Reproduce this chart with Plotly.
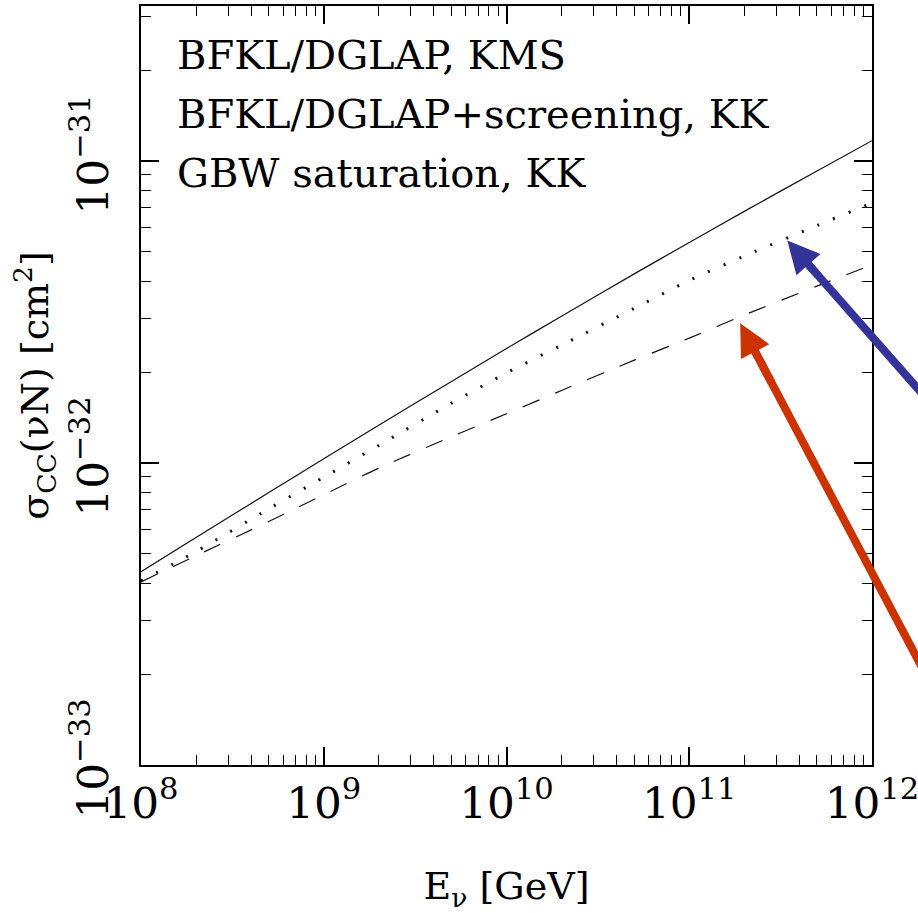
import numpy as np
import plotly.graph_objects as go

# Neutrino energy [GeV]
energy = [1e8, 2e8, 5e8, 1e9, 2e9, 5e9, 1e10, 2e10, 5e10, 1e11, 2e11, 5e11, 1e12]

# Charged-current cross sections [cm^2]
sigma_kms = [4.365e-33, 5.662e-33, 7.98e-33, 1.033e-32, 1.334e-32, 1.862e-32, 2.393e-32,
             3.062e-32, 4.227e-32, 5.37e-32, 6.808e-32, 9.268e-32, 1.167e-31]
sigma_screen = [4.07e-33, 5.09e-33, 7.05e-33, 8.97e-33, 1.143e-32, 1.578e-32, 1.986e-32,
                2.455e-32, 3.25e-32, 4.02e-32, 4.84e-32, 6.11e-32, 7.26e-32]
sigma_gbw = [4.04e-33, 4.93e-33, 6.40e-33, 7.85e-33, 9.61e-33, 1.222e-32, 1.455e-32,
             1.738e-32, 2.19e-32, 2.59e-32, 3.09e-32, 3.85e-32, 4.53e-32]

labels = ["BFKL/DGLAP, KMS", "BFKL/DGLAP+screening, KK", "GBW saturation, KK"]

# arrow tips (data) pointing at curves
blue_tip = (3.44e11, 5.45e-32)
red_tip = (1.9e11, 2.9e-32)

X_RANGE = [8, 12]
Y_RANGE = [-33, -30.487]

FONT = "DejaVu Serif"

fig = go.Figure()
fig.add_trace(go.Scatter(x=energy, y=sigma_kms, mode="lines",
                         line=dict(color="#111111", width=1.2, shape="spline", smoothing=0.8),
                         name=labels[0]))
fig.add_trace(go.Scatter(x=energy, y=sigma_screen, mode="lines",
                         line=dict(color="#111111", width=3, dash="2px,15px", shape="spline", smoothing=0.8),
                         name=labels[1]))
fig.add_trace(go.Scatter(x=energy, y=sigma_gbw, mode="lines",
                         line=dict(color="#111111", width=1.2, dash="18px,17px", shape="spline", smoothing=0.8),
                         name=labels[2]))

axis_common = dict(
    type="log", dtick=1, exponentformat="power", showexponent="all",
    ticks="inside", ticklen=18, tickwidth=1.5, tickcolor="black",
    showline=True, linecolor="black", linewidth=1.6, mirror="allticks",
    showgrid=False, zeroline=False, ticklabeloverflow="allow", automargin=False,
    minor=dict(ticks="inside", ticklen=10, tickwidth=1.3, tickcolor="black", showgrid=False),
    tickfont=dict(family=FONT, size=35, color="black"),
)

fig.update_xaxes(**axis_common, range=X_RANGE,
                 title=dict(text="E<sub>ν</sub> [GeV]", font=dict(family=FONT, size=38, color="black"),
                            standoff=48))
fig.update_yaxes(**axis_common, range=Y_RANGE, tickangle=-90, ticklabelstandoff=15,
                 title=dict(text="σ<sub>CC</sub>(νN) [cm<sup>2</sup>]",
                            font=dict(family=FONT, size=38, color="black"), standoff=2))

ys = [0.935, 0.858, 0.780]
for lab, yy in zip(labels, ys):
    fig.add_annotation(text=lab, xref="paper", yref="paper", x=0.046, y=yy,
                       xanchor="left", yanchor="middle", showarrow=False,
                       font=dict(family=FONT, size=40, color="black"))


def paper_pos(tip):
    px = (np.log10(tip[0]) - X_RANGE[0]) / (X_RANGE[1] - X_RANGE[0])
    py = (np.log10(tip[1]) - Y_RANGE[0]) / (Y_RANGE[1] - Y_RANGE[0])
    return px, py


for tip, color, dx, dy in [(blue_tip, "#333399", 1.0, 1.135), (red_tip, "#CC3300", 1.0, 1.893)]:
    px, py = paper_pos(tip)
    # long shaft running off the right edge of the figure
    fig.add_shape(type="line", xref="paper", yref="paper", xsizemode="pixel", ysizemode="pixel",
                  xanchor=px, yanchor=py, x0=14 * dx, y0=-14 * dy, x1=260 * dx, y1=-260 * dy,
                  line=dict(color=color, width=8), layer="above")
    # arrow head
    fig.add_annotation(x=np.log10(tip[0]), y=np.log10(tip[1]), xref="x", yref="y",
                       text="", showarrow=True, ax=32 * dx, ay=32 * dy, arrowhead=2,
                       arrowsize=0.8, arrowwidth=8, arrowcolor=color, standoff=0)

fig.update_layout(
    width=918, height=913, showlegend=False,
    margin=dict(l=141, r=46, t=6, b=148),
    paper_bgcolor="white", plot_bgcolor="white",
)

fig.write_html("out.html")
